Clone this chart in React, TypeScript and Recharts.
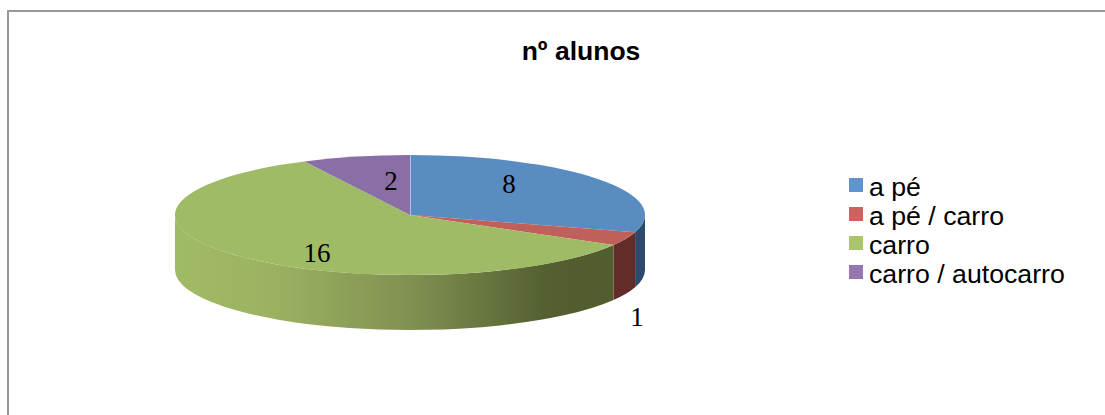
import { Legend, Pie, PieChart } from 'recharts';

const categories = ['a pé', 'a pé / carro', 'carro', 'carro / autocarro'];
const values = [8, 1, 16, 2];
const topColors = ['#598cc0', '#c0605a', '#a0bb66', '#8a6fa6'];
const sideColors = ['#2c4a6b', '#642c29', 'url(#greenSide)', '#5a4570'];
const legendColors = ['#5f95cf', '#cd635d', '#abc56c', '#9577b1'];
const labelAnchors = [
  [509, 184],
  [637, 317],
  [317, 253],
  [391, 181],
];

const CX = 410;
const CY = 215;
const RX = 235;
const RY = 60;
const DEPTH = 55;

const chartData = categories.map((name, i) => ({
  name,
  value: values[i],
  fill: topColors[i],
}));

// ellipse point, angle in degrees clockwise from the top
function ellipsePoint(t: number, drop = 0) {
  const rad = (t * Math.PI) / 180;
  return [CX + RX * Math.sin(rad), CY - RY * Math.cos(rad) + drop];
}

function arc(from: number, to: number, drop: number, sweep: number) {
  const [x, y] = ellipsePoint(to, drop);
  const large = Math.abs(to - from) > 180 ? 1 : 0;
  return `A ${RX} ${RY} 0 ${large} ${sweep} ${x} ${y}`;
}

function Slice3D(props: any) {
  const { startAngle, endAngle, fill, name } = props;
  const index = categories.indexOf(name);
  const from = 90 - startAngle;
  const to = 90 - endAngle;
  const [sx, sy] = ellipsePoint(from);

  const wallFrom = Math.max(from, 90);
  const wallTo = Math.min(to, 270);
  let wall = null;
  if (wallTo > wallFrom) {
    const [ax, ay] = ellipsePoint(wallFrom);
    const [bx, by] = ellipsePoint(wallTo, DEPTH);
    const d = `M ${ax} ${ay} ${arc(wallFrom, wallTo, 0, 1)} L ${bx} ${by} ${arc(wallTo, wallFrom, DEPTH, 0)} Z`;
    wall = <path d={d} fill={sideColors[index]} stroke="none" />;
  }

  return (
    <g>
      {wall}
      <path d={`M ${CX} ${CY} L ${sx} ${sy} ${arc(from, to, 0, 1)} Z`} fill={fill} stroke="none" />
      {index === 0 && <line x1={CX} y1={CY} x2={sx} y2={sy} stroke="#ffffff" strokeWidth={1} />}
    </g>
  );
}

function SliceLabel(props: any) {
  const index = categories.indexOf(props.name);
  const [x, y] = labelAnchors[index];
  return (
    <text
      x={x}
      y={y}
      textAnchor="middle"
      dominantBaseline="central"
      fill="#000000"
      fontFamily="'Liberation Serif', serif"
      fontSize={27}
    >
      {values[index]}
    </text>
  );
}

function LegendList() {
  return (
    <div style={{ fontFamily: "'Liberation Sans', Arial, sans-serif", fontSize: 26.7, color: '#000' }}>
      {categories.map((name, i) => (
        <div key={name} style={{ display: 'flex', alignItems: 'center', height: 29, whiteSpace: 'nowrap' }}>
          <span style={{ width: 14, height: 14, background: legendColors[i], marginRight: 6, marginTop: -6 }} />
          {name}
        </div>
      ))}
    </div>
  );
}

export default function App() {
  return (
    <div style={{ position: 'absolute', left: 0, top: 0, width: 1105, height: 415, background: '#fff', overflow: 'hidden' }}>
      <PieChart width={1105} height={415} margin={{ top: 0, right: 0, bottom: 0, left: 0 }}>
        <defs>
          <linearGradient id="greenSide" gradientUnits="userSpaceOnUse" x1={175} y1={0} x2={613} y2={0}>
            <stop offset="0%" stopColor="#a0bb66" />
            <stop offset="22%" stopColor="#9cb262" />
            <stop offset="55%" stopColor="#7f8f50" />
            <stop offset="85%" stopColor="#535f30" />
            <stop offset="100%" stopColor="#515c2f" />
          </linearGradient>
        </defs>
        <path d="M 8 415 L 8 11 L 1105 11" fill="none" stroke="#979797" strokeWidth={2} />
        <text
          x={581}
          y={51}
          textAnchor="middle"
          dominantBaseline="central"
          fontFamily="'Liberation Sans', Arial, sans-serif"
          fontWeight="bold"
          fontSize={26.5}
          fill="#000000"
        >
          nº alunos
        </text>
        <Pie
          data={chartData}
          dataKey="value"
          nameKey="name"
          cx={CX}
          cy={CY}
          innerRadius={0}
          outerRadius={RX}
          startAngle={90}
          endAngle={-270}
          paddingAngle={0}
          stroke="none"
          shape={Slice3D}
          label={SliceLabel}
          labelLine={false}
          isAnimationActive={false}
        />
        <Legend
          layout="vertical"
          align="right"
          verticalAlign="top"
          content={<LegendList />}
          wrapperStyle={{ left: 849, top: 173, width: 250 }}
        />
      </PieChart>
    </div>
  );
}
